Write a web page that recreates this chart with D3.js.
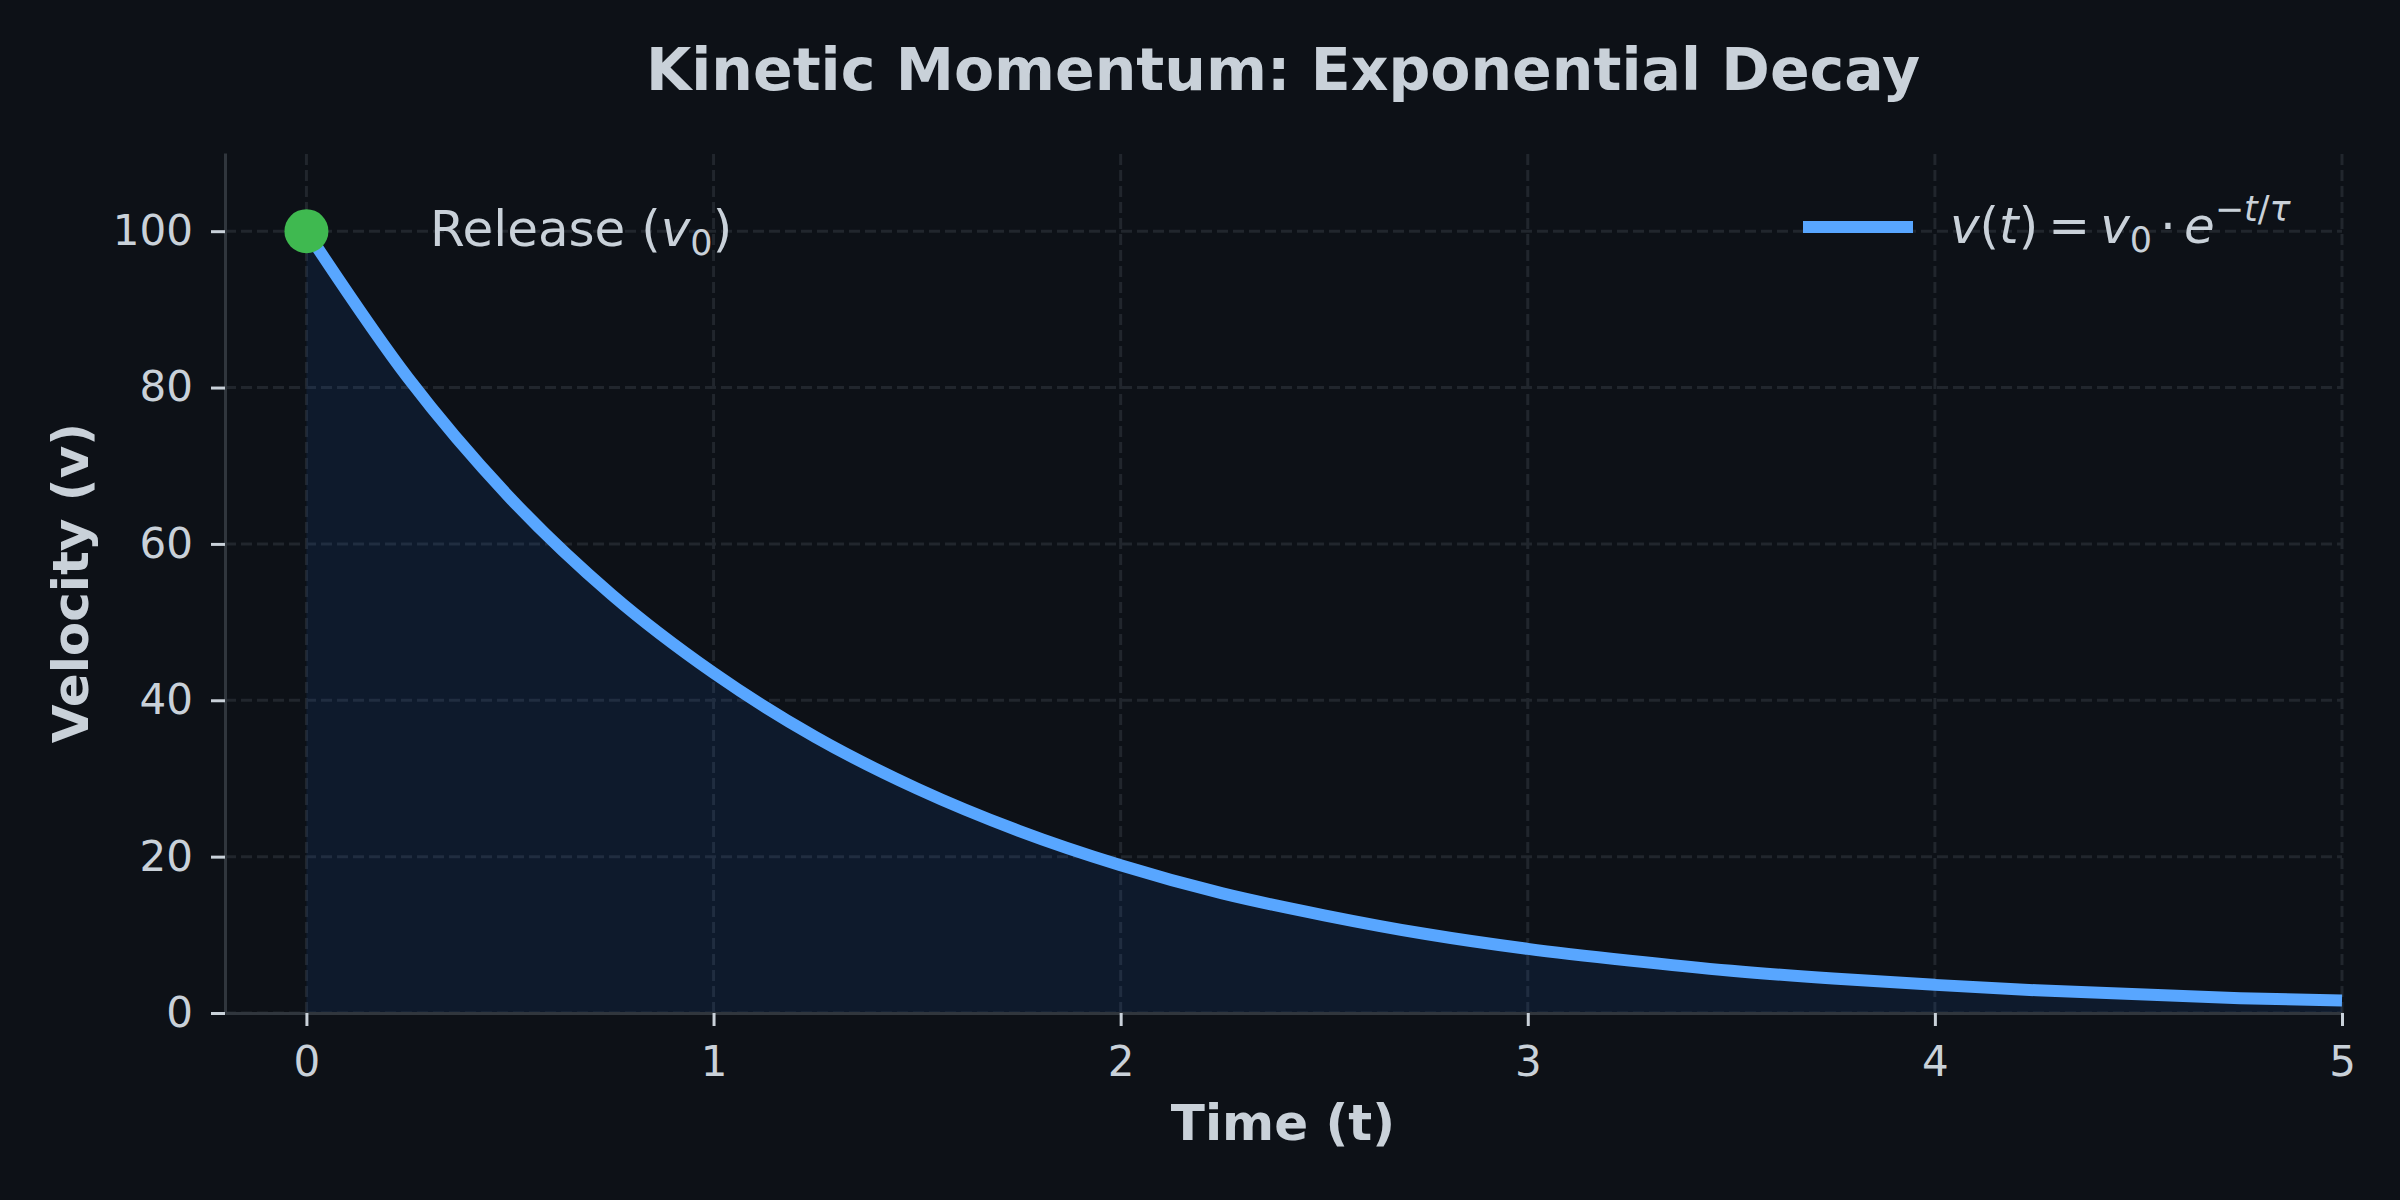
<!DOCTYPE html>
<html>
<head>
<meta charset="utf-8">
<script src="https://cdn.jsdelivr.net/npm/d3@7"></script>
<style>
  body { margin: 0; background: #0d1117; }
  svg { display: block; font-family: 'DejaVu Sans', sans-serif; }
</style>
</head>
<body>
<svg width="2400" height="1200"></svg>
<script>
// readings, every 0.25 s
const timePoints = [0, 0.25, 0.5, 0.75, 1, 1.25, 1.5, 1.75, 2, 2.25, 2.5, 2.75, 3, 3.25, 3.5, 3.75, 4, 4.25, 4.5, 4.75, 5];
const velocity = [100, 81.2, 65.9, 53.5, 43.5, 35.3, 28.7, 23.3, 18.9, 15.3, 12.5, 10.1, 8.2, 6.7, 5.4, 4.4, 3.6, 2.9, 2.4, 1.9, 1.6];
const xTicks = [0, 1, 2, 3, 4, 5];
const yTicks = [0, 20, 40, 60, 80, 100];
const releasePoint = [0, 100];

const bg = '#0d1117';
const textColor = '#c9d1d9';
const gridColor = '#21262d';
const spineColor = '#30363d';
const lineColor = '#58a6ff';
const fillColor = '#1f6feb';
const dotColor = '#3fb950';

const svg = d3.select('svg');
svg.append('rect').attr('width', 2400).attr('height', 1200).attr('fill', bg);

const x = d3.scaleLinear().domain([-0.2, 5]).range([225, 2342]);
const y = d3.scaleLinear().domain([0, 110]).range([1013, 153]);

const data = timePoints.map((t, i) => ({ t, v: velocity[i] }));

// grid
const grid = svg.append('g');
grid.selectAll('.hg')
	.data(yTicks)
	.join('line')
	.attr('x1', x.range()[0])
	.attr('x2', x.range()[1])
	.attr('y1', d => y(d))
	.attr('y2', d => y(d))
	.attr('stroke', gridColor)
	.attr('stroke-width', 3)
	.attr('stroke-dasharray', '11 5');
grid.selectAll('.vg')
	.data(xTicks)
	.join('line')
	.attr('x1', d => x(d))
	.attr('x2', d => x(d))
	.attr('y1', y.range()[0])
	.attr('y2', y.range()[1])
	.attr('stroke', gridColor)
	.attr('stroke-width', 3)
	.attr('stroke-dasharray', '11 5');

// fill under curve
const area = d3.area()
	.x(d => x(d.t))
	.y0(y(0))
	.y1(d => y(d.v))
	.curve(d3.curveMonotoneX);
svg.append('path')
	.datum(data)
	.attr('d', area)
	.attr('fill', fillColor)
	.attr('fill-opacity', 0.1);

// axes
const xAxis = svg.append('g')
	.attr('transform', `translate(0, ${y(0)})`)
	.call(d3.axisBottom(x).tickValues(xTicks).tickSize(13).tickSizeOuter(0).tickPadding(20).tickFormat(d3.format('d')));
const yAxis = svg.append('g')
	.attr('transform', `translate(${x.range()[0]}, 0)`)
	.call(d3.axisLeft(y).tickValues(yTicks).tickSize(14).tickSizeOuter(0).tickPadding(18).tickFormat(d3.format('d')));

[xAxis, yAxis].forEach(ax => {
	ax.select('.domain').attr('stroke', spineColor).attr('stroke-width', 3);
	ax.selectAll('.tick line').attr('stroke', textColor).attr('stroke-width', 3);
	ax.selectAll('.tick text')
		.attr('fill', textColor)
		.attr('font-size', 42)
		.attr('font-family', 'DejaVu Sans');
});

// curve
const line = d3.line()
	.x(d => x(d.t))
	.y(d => y(d.v))
	.curve(d3.curveMonotoneX);
svg.append('path')
	.datum(data)
	.attr('d', line)
	.attr('fill', 'none')
	.attr('stroke', lineColor)
	.attr('stroke-width', 12);

svg.append('circle')
	.attr('cx', x(releasePoint[0]))
	.attr('cy', y(releasePoint[1]))
	.attr('r', 22)
	.attr('fill', dotColor);

// title and axis labels
svg.append('text')
	.attr('x', 1283)
	.attr('y', 90)
	.attr('text-anchor', 'middle')
	.attr('font-size', 58.5)
	.attr('font-weight', 'bold')
	.attr('fill', textColor)
	.text('Kinetic Momentum: Exponential Decay');

svg.append('text')
	.attr('x', 1283)
	.attr('y', 1140)
	.attr('text-anchor', 'middle')
	.attr('font-size', 50)
	.attr('font-weight', 'bold')
	.attr('fill', textColor)
	.text('Time (t)');

svg.append('text')
	.attr('transform', 'translate(88, 583) rotate(-90)')
	.attr('text-anchor', 'middle')
	.attr('font-size', 50)
	.attr('font-weight', 'bold')
	.attr('fill', textColor)
	.text('Velocity (v)');

// legend-like labels
const rel = svg.append('text')
	.attr('x', 430)
	.attr('y', 246)
	.attr('font-size', 50)
	.attr('fill', textColor);
rel.append('tspan').text('Release (');
rel.append('tspan').attr('font-style', 'italic').text('v');
rel.append('tspan').attr('font-size', 35).attr('dy', 9).text('0');
rel.append('tspan').attr('dy', -9).text(')');

svg.append('line')
	.attr('x1', 1803)
	.attr('x2', 1913)
	.attr('y1', 227)
	.attr('y2', 227)
	.attr('stroke', lineColor)
	.attr('stroke-width', 12);

const eq = svg.append('text')
	.attr('x', 1950)
	.attr('y', 243)
	.attr('font-size', 50)
	.attr('fill', textColor);
eq.append('tspan').attr('font-style', 'italic').text('v');
eq.append('tspan').text('(');
eq.append('tspan').attr('font-style', 'italic').text('t');
eq.append('tspan').text(')');
eq.append('tspan').attr('dx', 10).text('=');
eq.append('tspan').attr('dx', 10).attr('font-style', 'italic').text('v');
eq.append('tspan').attr('font-size', 35).attr('dy', 9).text('0');
eq.append('tspan').attr('dy', -9).attr('dx', 8).text('·');
eq.append('tspan').attr('dx', 8).attr('font-style', 'italic').text('e');
eq.append('tspan').attr('font-size', 35).attr('dy', -22).text('−');
eq.append('tspan').attr('font-size', 35).attr('font-style', 'italic').text('t');
eq.append('tspan').attr('font-size', 35).text('/');
eq.append('tspan').attr('font-size', 35).attr('font-style', 'italic').text('τ');
</script>
</body>
</html>
